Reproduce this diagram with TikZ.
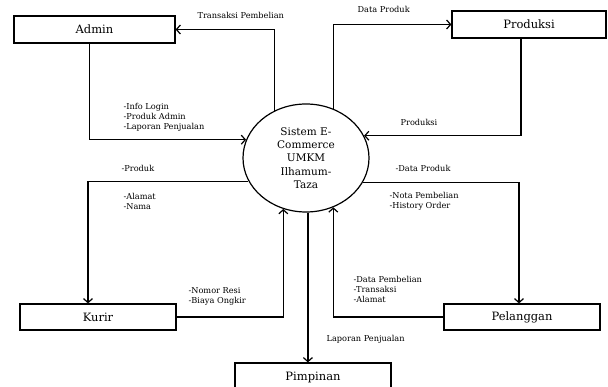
\documentclass[tikz,border=0pt]{standalone}
\usepackage{fontspec}
\setmainfont{DejaVu Serif}
\usetikzlibrary{shapes.geometric,arrows.meta}

\begin{document}
\begin{tikzpicture}
  [x=1pt,y=-1pt,line width=1.2pt,>={Straight Barb[length=4pt,width=9pt]},
   entity/.style={draw,rectangle,inner sep=0,font=\fontsize{11.5}{13}\selectfont},
   lbl/.style={anchor=west,align=left,inner sep=0,font=\fontsize{8.2}{10}\selectfont}]
  \useasboundingbox (0,0) rectangle (608,387);

  \node[entity,minimum width=161pt,minimum height=27pt] (admin) at (94.5,29.5) {Admin};
  \node[entity,minimum width=154pt,minimum height=27pt] (prod)  at (529,24.5)  {Produksi};
  \node[entity,minimum width=156pt,minimum height=26pt] (kurir) at (98,317)    {Kurir};
  \node[entity,minimum width=156pt,minimum height=26pt] (pel)   at (522,317)   {Pelanggan};
  \node[entity,minimum width=156pt,minimum height=28pt] (pimp)  at (313,377)   {Pimpinan};
  \node[draw,ellipse,minimum width=126pt,minimum height=108pt,inner sep=0,align=center,
        font=\fontsize{10.5}{13.3}\selectfont] (sys) at (306,158)
        {Sistem E-\\Commerce\\UMKM\\Ilhamum-\\Taza};

  \foreach \from/\to in {sys.124/admin.east,sys.61/prod.west}
    \draw[->] (\from) |- (\to);
  \foreach \from/\to in {kurir.east/sys.246,pel.west/sys.299}
    \draw[->] (\from) -| (\to);
  \draw[->] ([xshift=-5pt]admin.south) |- (sys.163);
  \draw[->] ([xshift=-8pt]prod.south) |- (sys.21);
  \draw[->] (sys.202) -| ([xshift=-10pt]kurir.north);
  \draw[->] (sys.337) -| ([xshift=-3pt]pel.north);
  \draw[->] (sys.272) -- (sys.272 |- pimp.north);

  \node[lbl] (lt) at (197,15)  {Transaksi Pembelian};
  \node[lbl] (li) at (123,117) {-Info Login\\-Produk Admin\\-Laporan Penjualan};
  \node[lbl] (ld) at (357,9)   {Data Produk};
  \node[lbl] (lp) at (400,122) {Produksi};
  \node[lbl] (lk) at (121,168) {-Produk};
  \node[lbl] (la) at (123,201) {-Alamat\\-Nama};
  \node[lbl] (lr) at (188,296) {-Nomor Resi\\-Biaya Ongkir};
  \node[lbl] (lj) at (326,339) {Laporan Penjualan};
  \node[lbl] (lq) at (395,168) {-Data Produk};
  \node[lbl] (ln) at (389,201) {-Nota Pembelian\\-History Order};
  \node[lbl] (lb) at (353,289) {-Data Pembelian\\-Transaksi\\-Alamat};

\end{tikzpicture}
\end{document}
